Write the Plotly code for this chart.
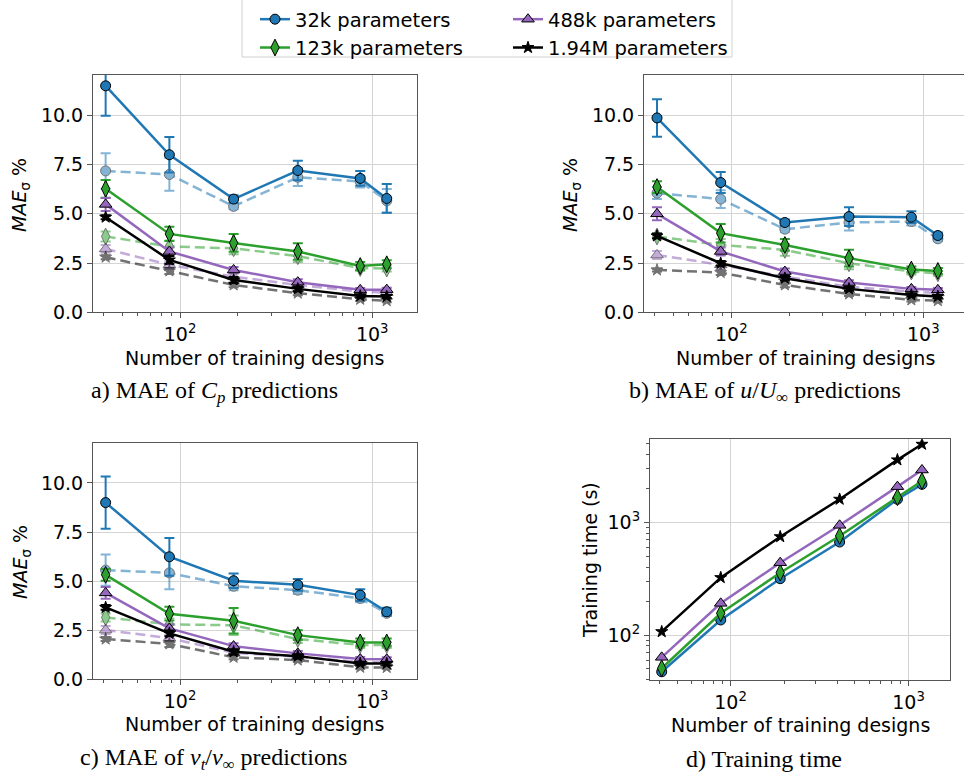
import plotly.graph_objects as go

W, H = 964, 778

# ---------------- data ----------------
n_designs = [41, 88, 190, 410, 866, 1190]
models = ["32k parameters", "123k parameters", "488k parameters", "1.94M parameters"]
colors = ["#1f77b4", "#2ca02c", "#9467bd", "#000000"]
symbols = ["circle", "diamond-tall", "triangle-up", "star"]
msizes = [10, 12, 11, 9]

# Panel a: MAE of Cp (solid, dashed) with error bars
cp_32k = [11.5, 8.0, 5.75, 7.2, 6.8, 5.78]
cp_32k_err = [1.52, 0.9, 0.2, 0.5, 0.38, 0.73]
cp_32k_d = [7.18, 7.0, 5.38, 6.86, 6.64, 5.66]
cp_32k_d_err = [0.9, 0.83, 0.15, 0.45, 0.3, 0.6]
cp_123k = [6.27, 3.98, 3.52, 3.09, 2.35, 2.44]
cp_123k_err = [0.45, 0.36, 0.45, 0.42, 0.2, 0.2]
cp_123k_d = [3.85, 3.34, 3.25, 2.85, 2.25, 2.22]
cp_123k_d_err = [0.25, 0.3, 0.3, 0.3, 0.15, 0.15]
cp_488k = [5.48, 3.09, 2.15, 1.53, 1.14, 1.15]
cp_488k_err = [0.33, 0.2, 0.15, 0.15, 0.1, 0.1]
cp_488k_d = [3.22, 2.41, 1.81, 1.39, 1.05, 1.0]
cp_488k_d_err = [0.2, 0.2, 0.15, 0.1, 0.08, 0.08]
cp_194m = [4.83, 2.66, 1.64, 1.19, 0.83, 0.8]
cp_194m_err = [0.1, 0.2, 0.15, 0.12, 0.08, 0.08]
cp_194m_d = [2.8, 2.1, 1.39, 0.97, 0.66, 0.59]
cp_194m_d_err = [0.1, 0.15, 0.12, 0.1, 0.08, 0.08]

# Panel b: MAE of u/U_inf
u_32k = [9.87, 6.59, 4.56, 4.86, 4.83, 3.9]
u_32k_err = [0.95, 0.53, 0.15, 0.48, 0.3, 0.15]
u_32k_d = [6.05, 5.75, 4.22, 4.56, 4.61, 3.73]
u_32k_d_err = [0.3, 0.45, 0.15, 0.4, 0.2, 0.12]
u_123k = [6.36, 4.02, 3.42, 2.75, 2.17, 2.1]
u_123k_err = [0.3, 0.47, 0.3, 0.42, 0.15, 0.15]
u_123k_d = [3.85, 3.42, 3.17, 2.49, 2.07, 1.98]
u_123k_d_err = [0.15, 0.3, 0.3, 0.3, 0.15, 0.12]
u_488k = [5.0, 3.09, 2.07, 1.51, 1.19, 1.14]
u_488k_err = [0.33, 0.2, 0.15, 0.12, 0.1, 0.1]
u_488k_d = [2.91, 2.41, 1.81, 1.3, 1.05, 0.98]
u_488k_d_err = [0.2, 0.2, 0.12, 0.1, 0.08, 0.08]
u_194m = [3.88, 2.49, 1.73, 1.19, 0.88, 0.8]
u_194m_err = [0.12, 0.12, 0.12, 0.1, 0.08, 0.08]
u_194m_d = [2.15, 2.02, 1.39, 0.93, 0.63, 0.59]
u_194m_d_err = [0.08, 0.12, 0.12, 0.1, 0.08, 0.08]

# Panel c: MAE of nu_t/nu_inf
nu_32k = [9.0, 6.24, 5.02, 4.81, 4.29, 3.44]
nu_32k_err = [1.33, 0.96, 0.37, 0.3, 0.3, 0.2]
nu_32k_d = [5.56, 5.42, 4.74, 4.54, 4.12, 3.36]
nu_32k_d_err = [0.8, 0.84, 0.2, 0.2, 0.2, 0.12]
nu_123k = [5.32, 3.34, 2.98, 2.25, 1.88, 1.88]
nu_123k_err = [0.3, 0.35, 0.65, 0.25, 0.2, 0.2]
nu_123k_d = [3.15, 2.8, 2.75, 2.05, 1.75, 1.75]
nu_123k_d_err = [0.2, 0.3, 0.5, 0.2, 0.15, 0.15]
nu_488k = [4.4, 2.59, 1.69, 1.32, 1.03, 1.02]
nu_488k_err = [0.3, 0.2, 0.15, 0.12, 0.1, 0.1]
nu_488k_d = [2.51, 2.1, 1.35, 1.15, 0.88, 0.85]
nu_488k_d_err = [0.2, 0.15, 0.1, 0.1, 0.08, 0.08]
nu_194m = [3.66, 2.34, 1.4, 1.18, 0.81, 0.8]
nu_194m_err = [0.12, 0.15, 0.12, 0.1, 0.08, 0.08]
nu_194m_d = [2.05, 1.8, 1.12, 0.98, 0.61, 0.6]
nu_194m_d_err = [0.1, 0.15, 0.1, 0.1, 0.08, 0.08]

# Panel d: training time (s)
t_32k = [47.2, 136, 316, 668, 1600, 2170]
t_123k = [50.7, 156, 357, 755, 1667, 2320]
t_488k = [63.4, 191, 438, 940, 2070, 2910]
t_194m = [107, 323, 745, 1600, 3575, 4920]

x_ticks = [100, 1000]
x_ticktext = ["10<sup>2</sup>", "10<sup>3</sup>"]
x_minor = [40, 50, 60, 70, 80, 90, 200, 300, 400, 500, 600, 700, 800, 900]
y_lin_ticks = [0, 2.5, 5.0, 7.5, 10.0]
y_log_ticks = [100, 1000]
y_log_ticktext = ["10<sup>2</sup>", "10<sup>3</sup>"]
y_log_minor = [40, 50, 60, 70, 80, 90, 200, 300, 400, 500, 600, 700, 800, 900, 2000, 3000, 4000, 5000]

panels = {
    "a": dict(solid=[cp_32k, cp_123k, cp_488k, cp_194m],
              solid_err=[cp_32k_err, cp_123k_err, cp_488k_err, cp_194m_err],
              dashed=[cp_32k_d, cp_123k_d, cp_488k_d, cp_194m_d],
              dashed_err=[cp_32k_d_err, cp_123k_d_err, cp_488k_d_err, cp_194m_d_err]),
    "b": dict(solid=[u_32k, u_123k, u_488k, u_194m],
              solid_err=[u_32k_err, u_123k_err, u_488k_err, u_194m_err],
              dashed=[u_32k_d, u_123k_d, u_488k_d, u_194m_d],
              dashed_err=[u_32k_d_err, u_123k_d_err, u_488k_d_err, u_194m_d_err]),
    "c": dict(solid=[nu_32k, nu_123k, nu_488k, nu_194m],
              solid_err=[nu_32k_err, nu_123k_err, nu_488k_err, nu_194m_err],
              dashed=[nu_32k_d, nu_123k_d, nu_488k_d, nu_194m_d],
              dashed_err=[nu_32k_d_err, nu_123k_d_err, nu_488k_d_err, nu_194m_d_err]),
}
times = [t_32k, t_123k, t_488k, t_194m]

# ---------------- figure ----------------
fig = go.Figure()
axis_ids = {"a": ("x", "y"), "b": ("x2", "y2"), "c": ("x3", "y3")}
legend_of = ["legend", "legend", "legend2", "legend2"]
legend_rank = [1, 2, 1, 2]

for key, (xa, ya) in axis_ids.items():
    p = panels[key]
    # dashed (light) series first
    for i in range(4):
        fig.add_trace(go.Scatter(
            x=n_designs, y=p["dashed"][i], xaxis=xa, yaxis=ya,
            mode="lines+markers", opacity=0.55, showlegend=False,
            line=dict(color=colors[i], width=2.5, dash="10px,5px"),
            marker=dict(symbol=symbols[i], size=msizes[i], color=colors[i],
                        line=dict(color="black", width=1)),
            error_y=dict(type="data", array=p["dashed_err"][i], color=colors[i],
                         thickness=2, width=5),
        ))
    for i in range(4):
        fig.add_trace(go.Scatter(
            x=n_designs, y=p["solid"][i], xaxis=xa, yaxis=ya,
            mode="lines+markers", name=models[i],
            showlegend=(key == "a"), legend=legend_of[i], legendrank=legend_rank[i],
            line=dict(color=colors[i], width=2.5),
            marker=dict(symbol=symbols[i], size=msizes[i], color=colors[i],
                        line=dict(color="black", width=1)),
            error_y=dict(type="data", array=p["solid_err"][i], color=colors[i],
                         thickness=2, width=5),
        ))

for i in range(4):
    fig.add_trace(go.Scatter(
        x=n_designs, y=times[i], xaxis="x4", yaxis="y4",
        mode="lines+markers", showlegend=False,
        line=dict(color=colors[i], width=2.5),
        marker=dict(symbol=symbols[i], size=msizes[i], color=colors[i],
                    line=dict(color="black", width=1)),
    ))

def px_x(px):
    return px / W

def px_y(py):
    return 1 - py / H

FONT = "DejaVu Sans"
SPINE = "#555555"
GRID = "#d4d4d4"

def xaxis_style(x0, x1, rng, anchor, mirror=True):
    return dict(type="log", domain=[px_x(x0), px_x(x1)], range=rng, anchor=anchor,
                showline=True, linecolor=SPINE, linewidth=1, mirror=mirror,
                ticks="outside", ticklen=5, tickwidth=1, tickcolor=SPINE,
                tickmode="array", tickvals=x_ticks, ticktext=x_ticktext,
                tickfont=dict(family=FONT, size=19, color="black"),
                showgrid=True, gridcolor=GRID, gridwidth=1, zeroline=False,
                minor=dict(tickmode="array", tickvals=x_minor, ticks="outside",
                           ticklen=3, tickwidth=1, tickcolor=SPINE, showgrid=False),
                automargin=False)

def ylin_style(y0, y1, anchor, mirror=True):
    return dict(domain=[px_y(y1), px_y(y0)], range=[0, 12.05], anchor=anchor,
                showline=True, linecolor=SPINE, linewidth=1, mirror=mirror,
                ticks="outside", ticklen=5, tickwidth=1, tickcolor=SPINE,
                tickmode="array", tickvals=y_lin_ticks,
                ticktext=[f"{v:.1f}" for v in y_lin_ticks],
                tickfont=dict(family=FONT, size=19, color="black"),
                showgrid=True, gridcolor=GRID, gridwidth=1, zeroline=False,
                automargin=False)

xr = [1.547, 3.233]
xr_b = [1.545, 1.545 + 320 / 192.0]

fig.update_layout(
    width=W, height=H,
    margin=dict(l=0, r=0, t=0, b=0),
    paper_bgcolor="white", plot_bgcolor="white",
    font=dict(family=FONT, size=19, color="black"),
    xaxis=xaxis_style(93, 417, xr, "y"),
    yaxis=ylin_style(75, 312.3, "x"),
    xaxis2=xaxis_style(644, 964, xr_b, "y2"),
    yaxis2=ylin_style(75, 312.3, "x2", mirror=False),
    xaxis3=xaxis_style(93, 417, xr, "y3"),
    yaxis3=ylin_style(442.7, 679.3, "x3"),
    xaxis4=xaxis_style(650, 950, xr, "y4"),
    yaxis4=dict(type="log", domain=[px_y(680), px_y(439.3)], range=[1.601, 3.736], anchor="x4",
                showline=True, linecolor=SPINE, linewidth=1, mirror=True,
                ticks="outside", ticklen=5, tickwidth=1, tickcolor=SPINE,
                tickmode="array", tickvals=y_log_ticks, ticktext=y_log_ticktext,
                tickfont=dict(family=FONT, size=19, color="black"),
                showgrid=True, gridcolor=GRID, gridwidth=1, zeroline=False,
                minor=dict(tickmode="array", tickvals=y_log_minor, ticks="outside",
                           ticklen=3, tickwidth=1, tickcolor=SPINE, showgrid=False),
                automargin=False),
    legend=dict(x=px_x(255), y=1, xanchor="left", yanchor="top",
                bgcolor="rgba(0,0,0,0)", font=dict(family=FONT, size=19.5),
                tracegroupgap=2, itemwidth=30),
    legend2=dict(x=px_x(508), y=1, xanchor="left", yanchor="top",
                 bgcolor="rgba(0,0,0,0)", font=dict(family=FONT, size=19.5),
                 tracegroupgap=2, itemwidth=30),
)

# legend frame
fig.add_shape(type="rect", xref="paper", yref="paper",
              x0=px_x(242), x1=px_x(732), y0=px_y(57), y1=px_y(-4),
              line=dict(color="#d0d0d0", width=1), fillcolor="rgba(0,0,0,0)")

ylabel = "<i>MAE</i><sub>σ</sub> %"
annos = [
    (21, 195, ylabel, -90, FONT, 19),
    (572, 195, ylabel, -90, FONT, 19),
    (21, 562, ylabel, -90, FONT, 19),
    (590, 560, "Training time (s)", -90, FONT, 19),
    (254, 358, "Number of training designs", 0, FONT, 19),
    (805, 358, "Number of training designs", 0, FONT, 19),
    (254, 724, "Number of training designs", 0, FONT, 19),
    (800, 725, "Number of training designs", 0, FONT, 19),
    (214, 392, "a) MAE of <i>C</i><sub><i>p</i></sub> predictions", 0, "Liberation Serif", 24),
    (765, 392, "b) MAE of <i>u</i>/<i>U</i><sub>∞</sub> predictions", 0, "Liberation Serif", 24),
    (213, 759, "c) MAE of <i>ν</i><sub><i>t</i></sub>/<i>ν</i><sub>∞</sub> predictions", 0, "Liberation Serif", 24),
    (764, 759, "d) Training time", 0, "Liberation Serif", 24),
]
for x, y, text, ang, fam, size in annos:
    fig.add_annotation(x=px_x(x), y=px_y(y), xref="paper", yref="paper", text=text,
                       textangle=ang, showarrow=False, xanchor="center", yanchor="middle",
                       font=dict(family=fam, size=size, color="black"))

fig.write_html("out.html", config={"displayModeBar": False},
               post_script="document.body.style.margin='0';")
